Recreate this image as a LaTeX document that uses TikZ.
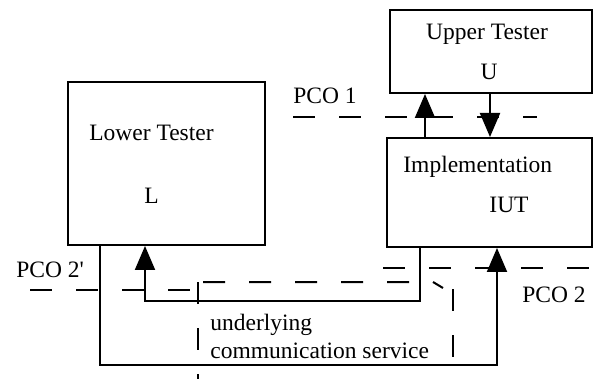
\documentclass[tikz,border=0pt]{standalone}
\usepackage{fontspec}
\setmainfont{Liberation Serif}
\usetikzlibrary{arrows.meta}
\begin{document}
\begin{tikzpicture}[x=0.5pt,y=-0.5pt,
  box/.style={draw,line width=1pt,inner sep=0pt},
  lbl/.style={inner sep=0pt,font=\fontsize{11.75}{14}\selectfont},
  conn/.style={line width=1pt,-{Triangle[length=12pt,width=10pt]}},
  pco/.style={line width=1pt,dash pattern=on 11pt off 12pt}]
\useasboundingbox (0,0) rectangle (594,379);
% boxes
\node[box,minimum width=98.5pt,minimum height=81.5pt] (lower) at (166.5,163.5) {};
\node[box,minimum width=101pt,minimum height=41.5pt] (upper) at (491,51.5) {};
\node[box,minimum width=102.5pt,minimum height=54.5pt] (impl) at (489.5,192.5) {};
% texts
\node[lbl,anchor=base] (tup) at (487,40) {Upper Tester};
\node[lbl,anchor=base] (tu) at (489,80) {U};
\node[lbl,anchor=base] (tlow) at (151.5,141) {Lower Tester};
\node[lbl,anchor=base] (tl) at (151.5,204) {L};
\node[lbl,anchor=base west] (timp) at (403,173) {Implementation};
\node[lbl,anchor=base] (tiut) at (509,213) {IUT};
\node[lbl,anchor=base west] (tp1) at (293,104) {PCO 1};
\node[lbl,anchor=base west] (tp2a) at (16,278) {PCO 2\textquotesingle};
\node[lbl,anchor=base west] (tp2) at (522,302) {PCO 2};
\node[lbl,anchor=base west] (tund) at (210,330) {underlying};
\node[lbl,anchor=base west] (tcom) at (210,358) {communication service};
% dashed PCO lines
\draw[pco] (293,117) -- (537,117);
\draw[pco] (30,290) -- (198,290);
\draw[pco] (198,282) -- (198,379);
\draw[pco] (203,282) -- (433,282) -- (443,288);
\draw[pco] (453,289) -- (453,379);
\draw[pco] (383,268) -- (592,268);
% connectors
\coordinate (xa) at (425,0);
\coordinate (xb) at (490,0);
\coordinate (xc) at (100,365);
\coordinate (xd) at (497,365);
\coordinate (xe) at (420,301);
\coordinate (xf) at (145,301);
\draw[conn] (impl.north -| xa) -- (upper.south -| xa);
\draw[conn] (upper.south -| xb) -- (impl.north -| xb);
\draw[conn] (lower.south -| xc) -- (xc) -- (xd) -- (impl.south -| xd);
\draw[conn] (impl.south -| xe) -- (xe) -- (xf) -- (lower.south -| xf);
\end{tikzpicture}
\end{document}
